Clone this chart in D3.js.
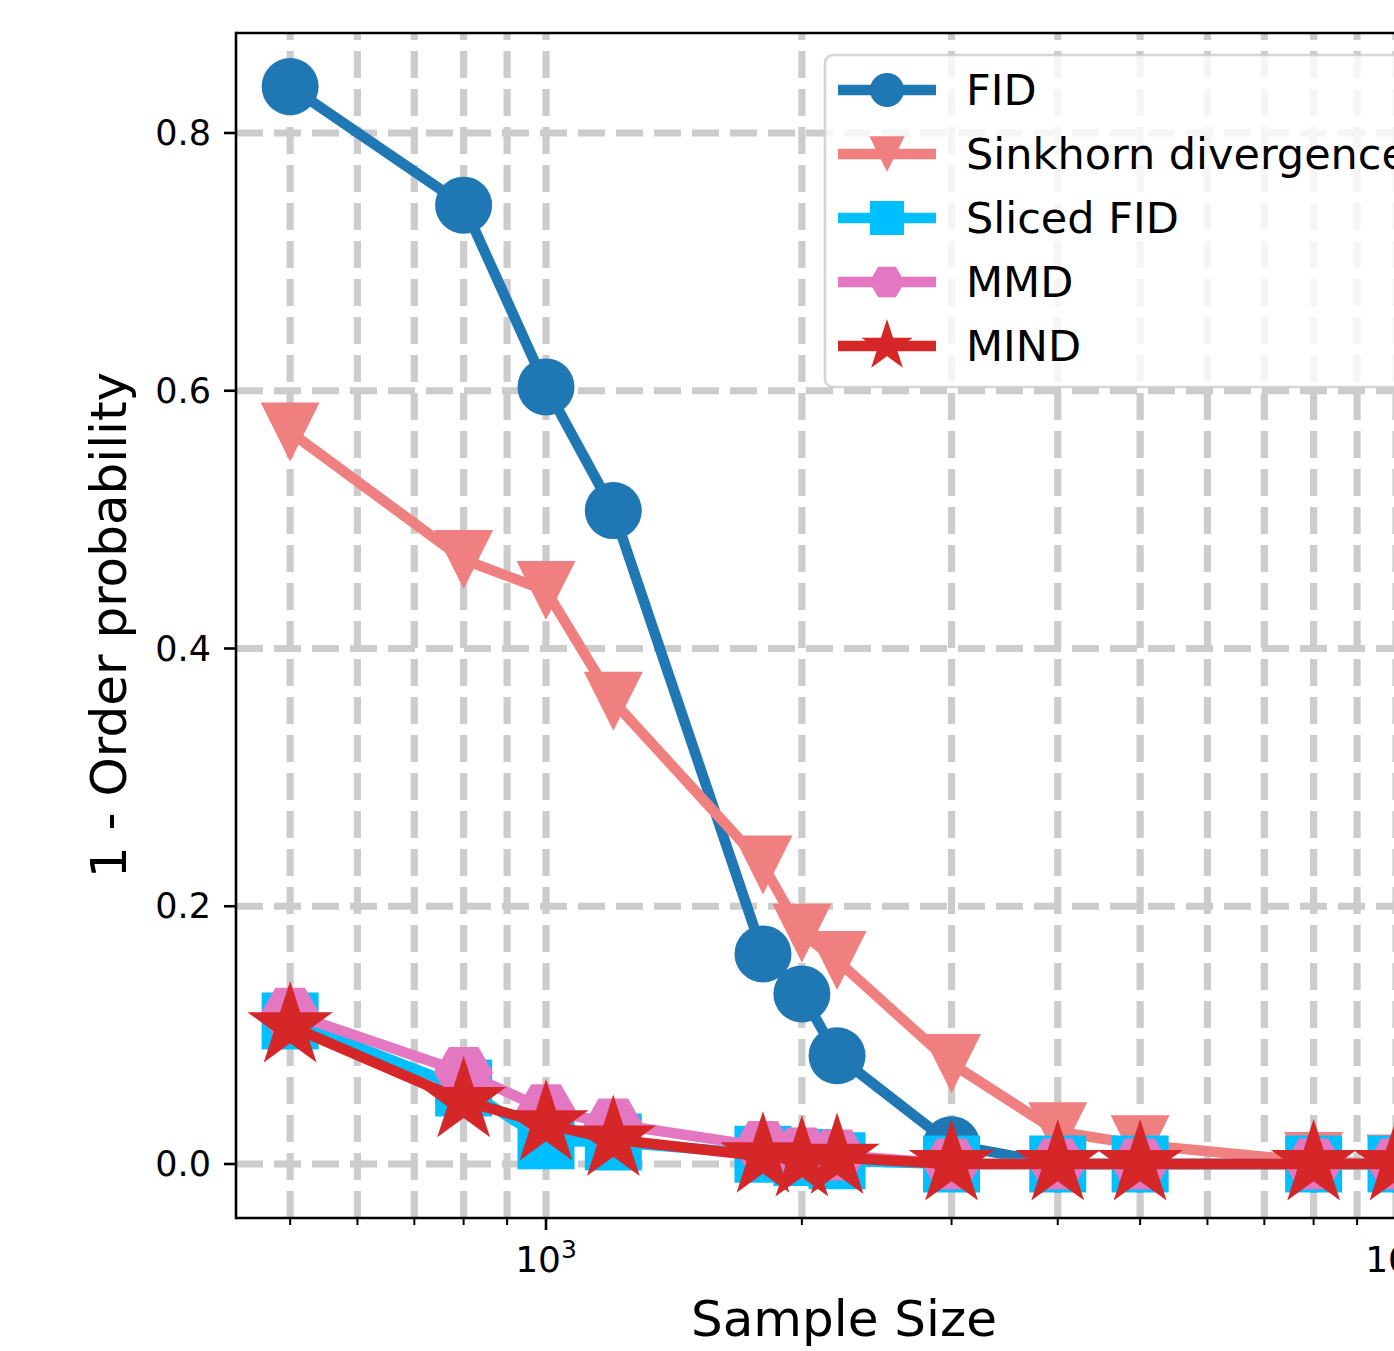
<!DOCTYPE html>
<html>
<head>
<meta charset="utf-8">
<script src="https://cdn.jsdelivr.net/npm/d3@7"></script>
<style>
    body { margin: 0; background: #fff; }
    text { font-family: "DejaVu Sans", sans-serif; fill: #000; }
</style>
</head>
<body>
<script>
var sampleSizes = [500, 800, 1000, 1200, 1800, 2000, 2200, 3000, 4000, 5000, 8000, 10000];

var fid      = [0.836, 0.744, 0.603, 0.507, 0.163, 0.132, 0.084, 0.015, 0, 0, 0, 0];
var sinkhorn = [0.568, 0.469, 0.445, 0.359, 0.232, 0.179, 0.158, 0.078, 0.025, 0.015, 0.002, 0];
var sliced   = [0.111, 0.059, 0.018, 0.017, 0.0075, 0.005, 0.0025, 0, 0, 0, 0, 0];
var mmd      = [0.117, 0.071, 0.042, 0.031, 0.0135, 0.0085, 0.007, 0, 0, 0, 0, 0];
var mind     = [0.107, 0.049, 0.031, 0.019, 0.006, 0.003, 0.005, 0, 0, 0, 0, 0];

var seriesNames = ['FID', 'Sinkhorn divergence', 'Sliced FID', 'MMD', 'MIND'];
var seriesValues = [fid, sinkhorn, sliced, mmd, mind];
var seriesColors = ['#1f77b4', '#f08080', '#00bfff', '#e377c2', '#d62728'];
var seriesMarkers = ['circle', 'triangle', 'square', 'hexagon', 'star'];

var yTicks = [0, 0.2, 0.4, 0.6, 0.8];
var xMajor = [1000, 10000];
var xMinor = [500, 600, 700, 800, 900, 2000, 3000, 4000, 5000, 6000, 7000, 8000, 9000];

var width = 1394;
var height = 1351;
var plotLeft = 236, plotTop = 33, plotBottom = 1218;

var svg = d3.select('body')
    .append('svg')
    .attr('width', width)
    .attr('height', height);

svg.append('rect').attr('width', width).attr('height', height).attr('fill', '#fff');

var x = d3.scaleLog().domain([1000, 10000]).range([546, 1396]);
var y = d3.scaleLinear().domain([0, 0.8]).range([1164, 133]);

svg.append('clipPath').attr('id', 'plot')
    .append('rect')
    .attr('x', plotLeft).attr('y', plotTop)
    .attr('width', 1400).attr('height', plotBottom - plotTop);

// grid
var grid = svg.append('g').attr('clip-path', 'url(#plot)')
    .attr('stroke', '#cccccc')
    .attr('stroke-width', 7.2)
    .attr('stroke-dasharray', '27,11');

grid.selectAll('.vgrid')
    .data(xMajor.concat(xMinor))
    .enter()
    .append('line')
    .attr('x1', function(d) { return x(d); })
    .attr('x2', function(d) { return x(d); })
    .attr('y1', plotBottom)
    .attr('y2', plotTop);

grid.selectAll('.hgrid')
    .data(yTicks)
    .enter()
    .append('line')
    .attr('x1', plotLeft)
    .attr('x2', 1500)
    .attr('y1', function(d) { return y(d); })
    .attr('y2', function(d) { return y(d); });

// marker shapes, r = half of the marker size
function markerPath(type, r) {
    var p = d3.path();
    var i, a, k;
    if (type === 'circle') {
        p.arc(0, 0, r, 0, 2 * Math.PI);
    } else if (type === 'square') {
        p.rect(-r, -r, 2 * r, 2 * r);
    } else if (type === 'triangle') {
        p.moveTo(0, r); p.lineTo(-r, -r); p.lineTo(r, -r);
    } else if (type === 'hexagon') {
        for (i = 0; i < 6; i++) {
            a = i * Math.PI / 3;
            if (i === 0) p.moveTo(r * Math.cos(a), r * Math.sin(a));
            else p.lineTo(r * Math.cos(a), r * Math.sin(a));
        }
    } else if (type === 'star') {
        for (i = 0; i < 10; i++) {
            a = -Math.PI / 2 + i * Math.PI / 5;
            k = (i % 2 === 0) ? r : r * 0.381966;
            if (i === 0) p.moveTo(k * Math.cos(a), k * Math.sin(a));
            else p.lineTo(k * Math.cos(a), k * Math.sin(a));
        }
    }
    p.closePath();
    return p.toString();
}

var markerSize = { circle: 28.5, triangle: 29.5, square: 28.5, hexagon: 29.5, star: 45 };

var line = d3.line()
    .x(function(d) { return x(d[0]); })
    .y(function(d) { return y(d[1]); });

var plot = svg.append('g').attr('clip-path', 'url(#plot)');

seriesValues.forEach(function(vals, s) {
    var pts = sampleSizes.map(function(n, i) { return [n, vals[i]]; });
    var g = plot.append('g');
    g.append('path')
        .datum(pts)
        .attr('d', line)
        .attr('fill', 'none')
        .attr('stroke', seriesColors[s])
        .attr('stroke-width', 10.5)
        .attr('stroke-linejoin', 'round');
    g.selectAll('.m')
        .data(pts)
        .enter()
        .append('path')
        .attr('transform', function(d) { return 'translate(' + x(d[0]) + ',' + y(d[1]) + ')'; })
        .attr('d', markerPath(seriesMarkers[s], markerSize[seriesMarkers[s]]))
        .attr('fill', seriesColors[s]);
});

// axes
svg.append('line').attr('x1', plotLeft).attr('x2', plotLeft).attr('y1', plotTop - 1.3).attr('y2', plotBottom + 1.3)
    .attr('stroke', '#000').attr('stroke-width', 2.6);
svg.append('line').attr('x1', plotLeft).attr('x2', 1500).attr('y1', plotBottom).attr('y2', plotBottom)
    .attr('stroke', '#000').attr('stroke-width', 2.6);
svg.append('line').attr('x1', plotLeft).attr('x2', 1500).attr('y1', plotTop).attr('y2', plotTop)
    .attr('stroke', '#000').attr('stroke-width', 2.6);

var yAxis = svg.append('g');
yAxis.selectAll('line')
    .data(yTicks)
    .enter()
    .append('line')
    .attr('x1', plotLeft - 12).attr('x2', plotLeft)
    .attr('y1', function(d) { return y(d); })
    .attr('y2', function(d) { return y(d); })
    .attr('stroke', '#000').attr('stroke-width', 2.6);
yAxis.selectAll('text')
    .data(yTicks)
    .enter()
    .append('text')
    .attr('x', plotLeft - 25)
    .attr('y', function(d) { return y(d) + 12; })
    .attr('text-anchor', 'end')
    .attr('font-size', 35)
    .text(function(d) { return d3.format('.1f')(d); });

var xAxis = svg.append('g');
xAxis.selectAll('.major')
    .data(xMajor)
    .enter()
    .append('line')
    .attr('x1', function(d) { return x(d); })
    .attr('x2', function(d) { return x(d); })
    .attr('y1', plotBottom).attr('y2', plotBottom + 12)
    .attr('stroke', '#000').attr('stroke-width', 2.6);
xAxis.selectAll('.minor')
    .data(xMinor)
    .enter()
    .append('line')
    .attr('x1', function(d) { return x(d); })
    .attr('x2', function(d) { return x(d); })
    .attr('y1', plotBottom).attr('y2', plotBottom + 7)
    .attr('stroke', '#000').attr('stroke-width', 2);

var xLabels = xAxis.selectAll('.lab')
    .data(xMajor)
    .enter()
    .append('text')
    .attr('x', function(d) { return x(d); })
    .attr('y', 1272)
    .attr('text-anchor', 'middle')
    .attr('font-size', 36);
xLabels.append('tspan').text('10');
xLabels.append('tspan')
    .attr('font-size', 25)
    .attr('dy', -14)
    .text(function(d) { return String(Math.round(Math.log10(d))); });

svg.append('text')
    .attr('x', 844)
    .attr('y', 1336)
    .attr('text-anchor', 'middle')
    .attr('font-size', 50)
    .text('Sample Size');

svg.append('text')
    .attr('transform', 'translate(126,625) rotate(-90)')
    .attr('text-anchor', 'middle')
    .attr('font-size', 50)
    .text('1 - Order probability');

// legend
var legend = svg.append('g');
legend.append('rect')
    .attr('x', 825).attr('y', 55)
    .attr('width', 700).attr('height', 332)
    .attr('rx', 8)
    .attr('fill', '#fff').attr('fill-opacity', 0.8)
    .attr('stroke', '#cccccc').attr('stroke-opacity', 0.8)
    .attr('stroke-width', 2.6);

seriesNames.forEach(function(name, s) {
    var cy = 90 + s * 64;
    legend.append('line')
        .attr('x1', 838).attr('x2', 936)
        .attr('y1', cy).attr('y2', cy)
        .attr('stroke', seriesColors[s])
        .attr('stroke-width', 10.5);
    legend.append('path')
        .attr('transform', 'translate(887,' + cy + ')')
        .attr('d', markerPath(seriesMarkers[s], markerSize[seriesMarkers[s]] * 0.6))
        .attr('fill', seriesColors[s]);
    legend.append('text')
        .attr('x', 966)
        .attr('y', cy + 15)
        .attr('font-size', 43)
        .text(name);
});
</script>
</body>
</html>
